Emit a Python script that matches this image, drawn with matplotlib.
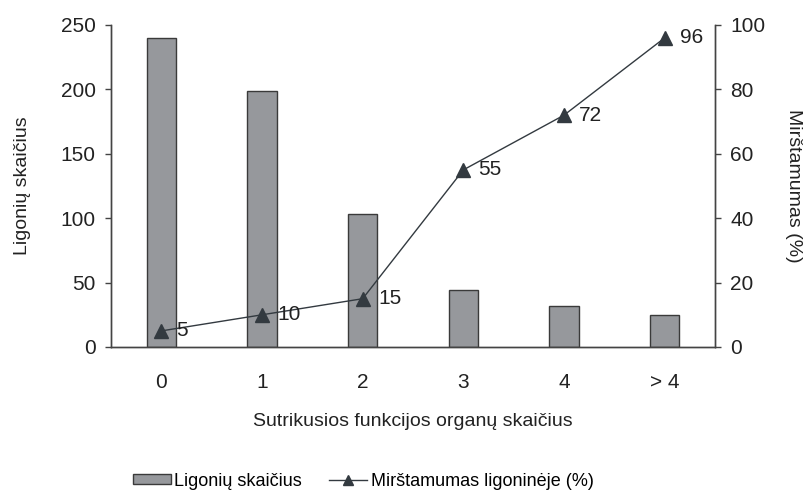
import matplotlib
matplotlib.use("Agg")
import matplotlib.pyplot as plt
from matplotlib.lines import Line2D

categories = ["0", "1", "2", "3", "4", "> 4"]
patients = [240, 199, 103, 44, 32, 25]
mortality = [5, 10, 15, 55, 72, 96]

plt.rcParams['font.family'] = ['Liberation Sans', 'DejaVu Sans']

fig = plt.figure(figsize=(8.06, 4.95), dpi=100)
ax = fig.add_axes([111/806, 1-347/495, (715-111)/806, (347-25)/495])
ax2 = ax.twinx()

x = list(range(len(categories)))
bars = ax.bar(x, patients, width=0.29, color="#96989c", edgecolor="#3a3a3a", linewidth=1.0,
              label="Ligonių skaičius", zorder=2)
line, = ax2.plot(x, mortality, color="#333a40", linewidth=1.0, marker="^", markersize=10,
                 markerfacecolor="#333a40", markeredgecolor="#333a40",
                 label="Mirštamumas ligoninėje (%)", zorder=3)
for xi, v in zip(x, mortality):
    ax2.annotate(str(v), (xi, v), xytext=(11, 0), textcoords="offset points",
                 ha="left", va="center", fontsize=15, color="#222222")

ax.set_xlim(-0.5, 5.5)
ax.set_ylim(0, 250)
ax2.set_ylim(0, 100)
ax.set_yticks([0, 50, 100, 150, 200, 250])
ax2.set_yticks([0, 20, 40, 60, 80, 100])
ax.set_xticks(x)
ax.set_xticklabels(categories)

for a in (ax, ax2):
    a.spines['top'].set_visible(False)
    for s in a.spines.values():
        s.set_color("#444444")
        s.set_linewidth(1.0)
    a.tick_params(axis='y', labelsize=15, length=4, width=1, color="#444444",
                  labelcolor="#222222", pad=7)
ax.tick_params(axis='x', length=0, labelsize=15, labelcolor="#222222", pad=19)

ax.set_xlabel("Sutrikusios funkcijos organų skaičius", fontsize=14, labelpad=15, color="#222222")
ax.set_ylabel("Ligonių skaičius", fontsize=14, labelpad=21, color="#222222")
ax2.set_ylabel("Mirštamumas (%)", fontsize=14, rotation=270, labelpad=26, color="#222222")

line_proxy = Line2D([], [], color="#333a40", linewidth=1.0, marker="^", markersize=7,
                    markerfacecolor="#333a40", markeredgecolor="#333a40")
leg = fig.legend([bars, line_proxy], ["Ligonių skaičius", "Mirštamumas ligoninėje (%)"],
                 loc="center", bbox_to_anchor=(363/806, 1-481/495), ncol=2, frameon=False,
                 prop={'size': 13},
                 handlelength=2.1, handleheight=0.5, handletextpad=0.2, columnspacing=1.5)

fig.savefig("out.png", dpi=100)
